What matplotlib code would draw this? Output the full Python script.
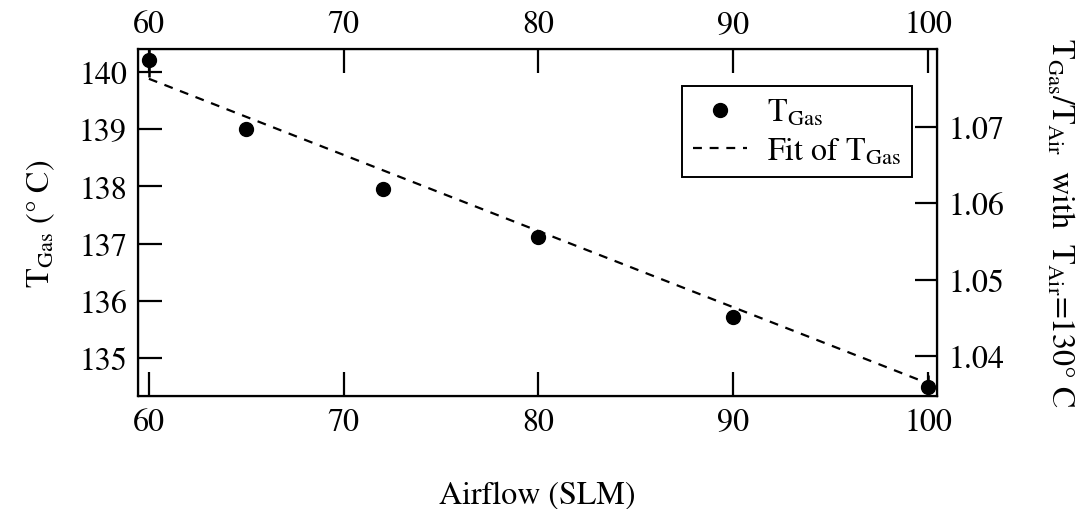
import numpy as np
import matplotlib
matplotlib.use('Agg')
import matplotlib.pyplot as plt
from matplotlib.lines import Line2D

# ---------------- Data ----------------
airflow = [60, 65, 72, 80, 90, 100]
t_gas = [140.21, 139.0, 137.95, 137.12, 135.72, 134.50]
t_gas_err = [0.3, 0.1, 0.1, 0.1, 0.1, 0.2]
fit_x = [60, 100]
fit_y = [139.88, 134.56]

x_ticks = [60, 70, 80, 90, 100]
y_ticks = [135, 136, 137, 138, 139, 140]
ratio_ticks = [1.04, 1.05, 1.06, 1.07]

plt.rcParams['font.family'] = ['STIXGeneral', 'DejaVu Serif']
plt.rcParams['mathtext.fontset'] = 'stix'
plt.rcParams['font.size'] = 23

fig = plt.figure(figsize=(10.89, 5.10), dpi=100)
ax = fig.add_axes([138 / 1089, 1 - 397 / 510, (937 - 138) / 1089, (397 - 50) / 510])

ax.errorbar(airflow, t_gas, yerr=t_gas_err, fmt='o', color='black', ms=10,
            elinewidth=1.8, capsize=0)
ax.plot(fit_x, fit_y, '--', color='black', lw=1.6, dashes=(4, 3.5))

ax.set_xlim(59.44, 100.46)
ax.set_ylim(134.34, 140.40)
ax.set_xticks(x_ticks)
ax.set_yticks(y_ticks)
ax.set_xlabel('Airflow (SLM)', labelpad=32)
ax.set_ylabel(r'$\mathrm{T_{Gas}}$ (° C)', labelpad=16)
for s in ax.spines.values():
    s.set_linewidth(1.6)
ax.tick_params(direction='in', length=17, width=1.6, top=False, right=False, pad=8)

# top axis: same airflow scale
axt = ax.twiny()
axt.set_xlim(ax.get_xlim())
axt.set_xticks(x_ticks)
axt.tick_params(direction='in', length=17, width=1.6, pad=7)

# right axis: ratio to T_air = 130 C
axr = ax.twinx()
axr.set_ylim(1.03476, 1.0802)
axr.set_yticks(ratio_ticks)
axr.set_yticklabels([f'{v:.2f}' for v in ratio_ticks])
axr.tick_params(direction='in', length=16, width=1.6, pad=8)
axr.set_ylabel(r'$\mathrm{T_{Gas}/T_{Air}}$  with  $\mathrm{T_{Air}}$=130° C',
               rotation=270, labelpad=52)

handles = [Line2D([], [], marker='o', ls='none', color='black', ms=10),
           Line2D([], [], ls='--', color='black', lw=1.6, dashes=(4, 3.5))]
labels = [r'$\mathrm{T_{Gas}}$', r'Fit of $\mathrm{T_{Gas}}$']
leg = ax.legend(handles, labels, loc='upper right',
                bbox_to_anchor=(912 / 1089, 1 - 87 / 510),
                bbox_transform=fig.transFigure, frameon=True, fancybox=False,
                framealpha=1, edgecolor='black', handlelength=1.7,
                borderpad=0.35, labelspacing=0.25, handletextpad=0.6,
                borderaxespad=0)
leg.get_frame().set_linewidth(1.4)

fig.savefig('out.png', dpi=100)
